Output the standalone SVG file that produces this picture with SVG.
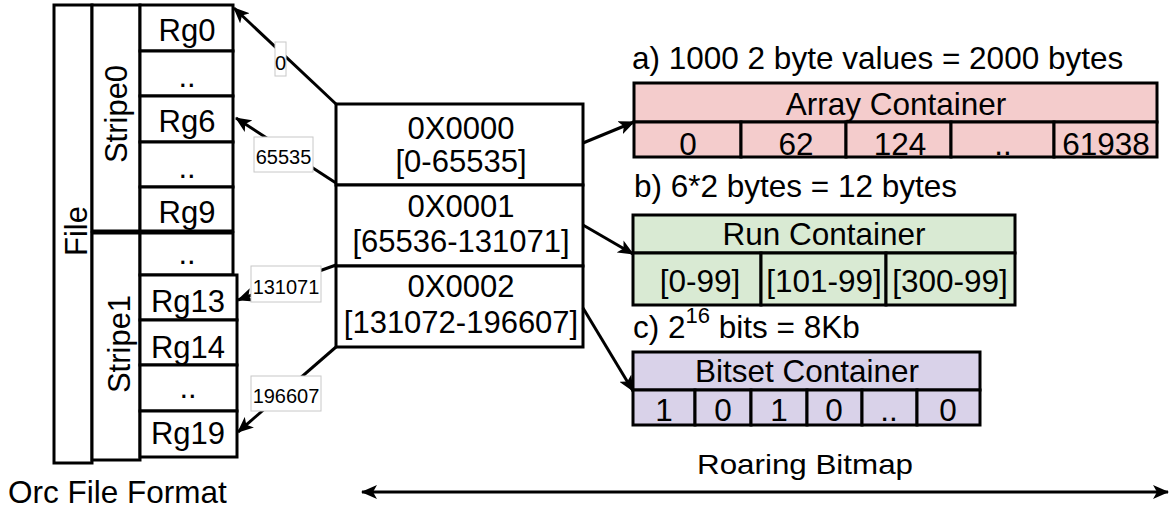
<svg xmlns="http://www.w3.org/2000/svg" width="1172" height="509" viewBox="0 0 1172 509">
<style>
text{font-family:"Liberation Sans",Arial,sans-serif;fill:#000}
.t30{font-size:31px;text-anchor:middle}
.t31{font-size:31.5px}
.c{text-anchor:middle}
.lbl{font-size:20px;text-anchor:middle}
.box{fill:#fff;stroke:#000;stroke-width:3}
.lb{fill:#fff;stroke:#c8c8c8;stroke-width:1}
.arr{fill:#f4cccc;stroke:#000;stroke-width:3}
.run{fill:#d9ead3;stroke:#000;stroke-width:3}
.bit{fill:#d9d2e9;stroke:#000;stroke-width:3}
.con{fill:none;stroke:#000;stroke-width:3}
</style>
<defs>
<marker id="ah" viewBox="0 0 16 14" refX="15" refY="7" markerWidth="16" markerHeight="14" orient="auto-start-reverse" markerUnits="userSpaceOnUse">
<path d="M0,0 L16,7 L0,14 L4,7 Z" fill="#000"/>
</marker>
</defs>

<g id="file">
<rect class="box" x="54" y="5" width="38" height="458"/>
<text class="t30" transform="translate(87,231) rotate(-90)">File</text>
</g>
<g id="stripe0">
<rect class="box" x="92" y="5" width="48" height="226"/>
<text class="t30" transform="translate(127,114) rotate(-90)">Stripe0</text>
</g>
<g id="stripe1">
<rect class="box" x="92" y="233" width="48" height="227"/>
<text class="t30" transform="translate(130,344) rotate(-90)">Stripe1</text>
</g>
<g id="rg0"><rect class="box" x="140" y="5" width="93" height="46"/><text class="t30" x="187" y="41">Rg0</text></g>
<g id="rg-dots1"><rect class="box" x="140" y="51" width="93" height="45"/><text class="t30" x="187" y="87">..</text></g>
<g id="rg6"><rect class="box" x="140" y="96" width="93" height="46"/><text class="t30" x="187" y="132">Rg6</text></g>
<g id="rg-dots2"><rect class="box" x="140" y="142" width="93" height="45"/><text class="t30" x="187" y="178">..</text></g>
<g id="rg9"><rect class="box" x="140" y="187" width="93" height="44"/><text class="t30" x="187" y="223">Rg9</text></g>
<g id="rg-dots3"><rect class="box" x="140" y="233" width="93" height="42"/><text class="t30" x="187" y="264">..</text></g>
<g id="rg13"><rect class="box" x="140" y="275" width="97" height="45"/><text class="t30" x="188" y="312">Rg13</text></g>
<g id="rg14"><rect class="box" x="140" y="320" width="97" height="45"/><text class="t30" x="188" y="358">Rg14</text></g>
<g id="rg-dots4"><rect class="box" x="140" y="365" width="97" height="46"/><text class="t30" x="188" y="398">..</text></g>
<g id="rg19"><rect class="box" x="140" y="411" width="97" height="46"/><text class="t30" x="188" y="444">Rg19</text></g>

<g id="key0"><rect class="box" x="336" y="104" width="247" height="81"/>
<text class="t30" x="461" y="139">0X0000</text><text class="t30" x="461" y="172">[0-65535]</text></g>
<g id="key1"><rect class="box" x="336" y="185" width="247" height="81"/>
<text class="t30" x="461" y="217">0X0001</text><text class="t30" x="461" y="252">[65536-131071]</text></g>
<g id="key2"><rect class="box" x="336" y="266" width="247" height="81"/>
<text class="t30" x="461" y="297">0X0002</text><text class="t30" x="461" y="333">[131072-196607]</text></g>

<g id="array-container">
<text class="t31" x="632" y="69">a) 1000 2 byte values = 2000 bytes</text>
<rect class="arr" x="634" y="83" width="523" height="39"/>
<text class="t31 c" x="896" y="115">Array Container</text>
<rect class="arr" x="634" y="122" width="107" height="35"/>
<rect class="arr" x="741" y="122" width="105" height="35"/>
<rect class="arr" x="846" y="122" width="105" height="35"/>
<rect class="arr" x="951" y="122" width="103" height="35"/>
<rect class="arr" x="1054" y="122" width="103" height="35"/>
<text class="t31 c" x="688" y="155">0</text>
<text class="t31 c" x="796" y="155">62</text>
<text class="t31 c" x="900" y="155">124</text>
<text class="t31 c" x="1003" y="155">..</text>
<text class="t31 c" x="1106" y="155">61938</text>
</g>

<g id="run-container">
<text class="t31" x="634" y="197">b) 6*2 bytes = 12 bytes</text>
<rect class="run" x="633" y="215" width="382" height="38"/>
<text class="t31 c" x="824" y="245">Run Container</text>
<rect class="run" x="633" y="253" width="128" height="52"/>
<rect class="run" x="761" y="253" width="125" height="52"/>
<rect class="run" x="886" y="253" width="129" height="52"/>
<text class="t31 c" x="700" y="292">[0-99]</text>
<text class="t31 c" x="824" y="292">[101-99]</text>
<text class="t31 c" x="950" y="292">[300-99]</text>
</g>

<g id="bitset-container">
<text class="t31" x="633" y="338">c) 2<tspan font-size="22" dy="-15">16</tspan><tspan dy="15"> bits = 8Kb</tspan></text>
<rect class="bit" x="633" y="352" width="347" height="38"/>
<text class="t31 c" x="807" y="382">Bitset Container</text>
<rect class="bit" x="633" y="390" width="62" height="35"/>
<rect class="bit" x="695" y="390" width="56" height="35"/>
<rect class="bit" x="751" y="390" width="56" height="35"/>
<rect class="bit" x="807" y="390" width="55" height="35"/>
<rect class="bit" x="862" y="390" width="55" height="35"/>
<rect class="bit" x="917" y="390" width="63" height="35"/>
<text class="t31 c" x="664" y="421">1</text>
<text class="t31 c" x="723" y="421">0</text>
<text class="t31 c" x="779" y="421">1</text>
<text class="t31 c" x="834" y="421">0</text>
<text class="t31 c" x="889" y="421">..</text>
<text class="t31 c" x="948" y="421">0</text>
</g>

<g id="connectors">
<line class="con" x1="336" y1="104" x2="234" y2="8" marker-end="url(#ah)"/>
<line class="con" x1="336" y1="183" x2="236" y2="118" marker-end="url(#ah)"/>
<line class="con" x1="336" y1="265" x2="238" y2="300" marker-end="url(#ah)"/>
<line class="con" x1="336" y1="347" x2="238" y2="432" marker-end="url(#ah)"/>
<line class="con" x1="583" y1="143" x2="634" y2="122" marker-end="url(#ah)"/>
<line class="con" x1="583" y1="225" x2="633" y2="254" marker-end="url(#ah)"/>
<line class="con" x1="583" y1="308" x2="633" y2="391" marker-end="url(#ah)"/>
<line class="con" x1="362" y1="492" x2="1168" y2="492" marker-start="url(#ah)" marker-end="url(#ah)"/>
<rect class="lb" x="275" y="42" width="11" height="34"/><text class="lbl" x="280.5" y="70">0</text>
<rect class="lb" x="254" y="137" width="59" height="35"/><text class="lbl" x="283.5" y="164">65535</text>
<rect class="lb" x="251" y="266" width="70" height="36"/><text class="lbl" x="286" y="294">131071</text>
<rect class="lb" x="251" y="376" width="70" height="35"/><text class="lbl" x="286" y="403">196607</text>
</g>

<g id="captions">
<text class="t31" x="8" y="503">Orc File Format</text>
<text x="805" y="474" style="font-size:28px;text-anchor:middle" textLength="216" lengthAdjust="spacingAndGlyphs">Roaring Bitmap</text>
</g>
</svg>
